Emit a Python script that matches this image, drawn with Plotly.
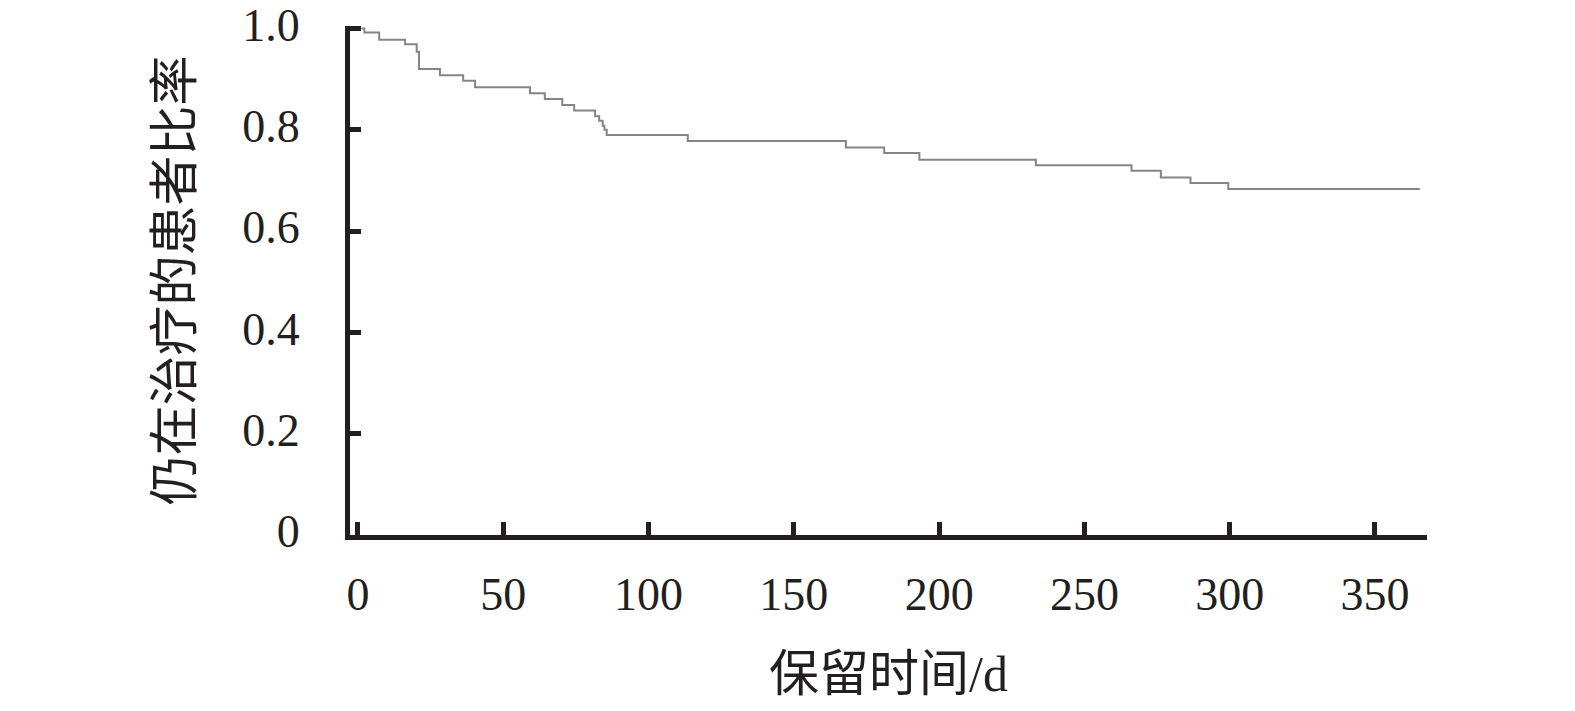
import plotly.graph_objects as go

# Kaplan-Meier style retention curve
times = [1.2, 2.2, 7.3, 16.2, 20.2, 21.0, 28.2, 36.2, 40.3, 59.2, 64.3, 70.3, 74.4,
         81.6, 83.0, 84.2, 84.8, 85.6, 113.5, 167.9, 181.1, 193.2, 233.3, 266.2,
         276.3, 286.5, 299.5, 365.4]
surv = [1.0, 0.992, 0.978, 0.969, 0.954, 0.920, 0.908, 0.897, 0.884, 0.872, 0.861,
        0.849, 0.838, 0.827, 0.818, 0.808, 0.800, 0.790, 0.778, 0.765, 0.754, 0.741,
        0.730, 0.719, 0.706, 0.695, 0.683, 0.683]

x_ticks = [0, 50, 100, 150, 200, 250, 300, 350]
y_ticks = [0, 0.2, 0.4, 0.6, 0.8, 1.0]
y_tick_text = ["0", "0.2", "0.4", "0.6", "0.8", "1.0"]

x_title = "保留时间/d"
y_title = "仍在治疗的患者比率"

ink = "#231f20"
font_family = "Liberation Serif, Noto Sans CJK SC, serif"

fig = go.Figure()
fig.add_trace(go.Scatter(
    x=times, y=surv, mode="lines", line_shape="hv",
    line=dict(color="#858585", width=2), showlegend=False, hoverinfo="skip",
))

fig.update_layout(
    width=1575, height=711,
    margin=dict(l=350, r=148, t=26, b=176, autoexpand=False),
    paper_bgcolor="white", plot_bgcolor="white",
    font=dict(family=font_family, color=ink, size=46),
)

fig.update_xaxes(
    range=[-2.75, 367.9], tickvals=x_ticks, ticks="inside", ticklen=13, tickwidth=5,
    tickcolor=ink, showline=True, linewidth=5, linecolor=ink, showgrid=False,
    zeroline=False, ticklabelstandoff=15, tickfont=dict(size=46, family=font_family),
    title=dict(text=x_title, font=dict(size=50, family=font_family), standoff=38),
    automargin=False,
)
fig.update_yaxes(
    range=[0, 1.005], tickvals=y_ticks, ticktext=y_tick_text, ticks="inside",
    ticklen=11, tickwidth=5, tickcolor=ink, showline=True, linewidth=5, linecolor=ink,
    showgrid=False, zeroline=False, ticklabelstandoff=36, ticklabelshift=-4,
    ticklabeloverflow="allow",
    tickfont=dict(size=46, family=font_family),
    title=dict(text=y_title, font=dict(size=50, family=font_family), standoff=35),
    automargin=False,
)

fig.write_html(
    "out.html",
    config={"displayModeBar": False},
    post_script="document.body.style.margin='0';document.body.style.overflow='hidden';",
)
